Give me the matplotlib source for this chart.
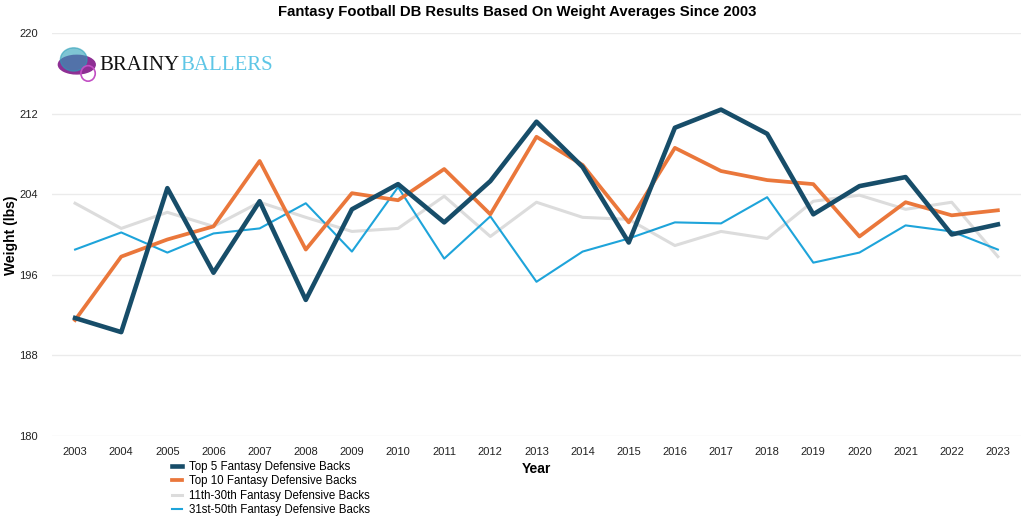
import matplotlib
matplotlib.use('Agg')
import matplotlib.pyplot as plt
from matplotlib.patches import Ellipse, Wedge

# Данные
years = list(range(2003, 2024))
top5 = [191.7, 190.3, 204.6, 196.2, 203.3, 193.5, 202.5, 205.0, 201.2, 205.3, 211.2,
        206.7, 199.2, 210.6, 212.4, 210.0, 202.0, 204.8, 205.7, 200.0, 201.0]
top10 = [191.5, 197.8, 199.5, 200.8, 207.3, 198.5, 204.1, 203.4, 206.5, 202.0, 209.7,
         206.9, 201.2, 208.6, 206.3, 205.4, 205.0, 199.8, 203.2, 201.9, 202.4]
r11_30 = [203.1, 200.6, 202.2, 200.8, 203.2, 201.7, 200.3, 200.6, 203.8, 199.8, 203.2,
          201.7, 201.5, 198.9, 200.3, 199.6, 203.3, 203.9, 202.5, 203.2, 197.8]
r31_50 = [198.5, 200.2, 198.2, 200.1, 200.6, 203.1, 198.3, 204.7, 197.6, 201.8, 195.3,
          198.3, 199.6, 201.2, 201.1, 203.7, 197.2, 198.2, 200.9, 200.3, 198.5]
yticks = [180, 188, 196, 204, 212, 220]

plt.rcParams['font.family'] = ['Liberation Sans', 'DejaVu Sans']

fig = plt.figure(figsize=(10.24, 5.17), dpi=100)
ax = fig.add_axes([0.0508, 0.157, 0.9462, 0.779])

ax.plot(years, r11_30, color='#dcdcdc', lw=2.2, label='11th-30th Fantasy Defensive Backs', zorder=2)
ax.plot(years, r31_50, color='#1ea4da', lw=1.5, label='31st-50th Fantasy Defensive Backs', zorder=3)
ax.plot(years, top10, color='#ea773b', lw=2.7, label='Top 10 Fantasy Defensive Backs', zorder=4)
ax.plot(years, top5, color='#174d69', lw=3.3, label='Top 5 Fantasy Defensive Backs', zorder=5)

ax.set_xlim(2002.5, 2023.5)
ax.set_ylim(180, 220)
ax.set_xticks(years)
ax.set_xticklabels([str(y) for y in years], fontsize=8, color='#222222')
ax.set_yticks(yticks)
ax.set_yticklabels([str(y) for y in yticks], fontsize=8, color='#222222')
ax.tick_params(length=0, pad=8)
ax.tick_params(axis='y', pad=10)
ax.grid(axis='y', color='#ebebeb', lw=1)
ax.set_axisbelow(True)
for s in ax.spines.values():
    s.set_visible(False)

fig.text(0.505, 0.976, 'Fantasy Football DB Results Based On Weight Averages Since 2003',
         ha='center', va='center', fontsize=10.7, fontweight='bold')
fig.text(0.524, 0.093, 'Year', ha='center', va='center', fontsize=10, fontweight='bold')
fig.text(0.011, 0.545, 'Weight (lbs)', ha='center', va='center', rotation=90,
         fontsize=10, fontweight='bold')

# Легенда
h, l = ax.get_legend_handles_labels()
order = [3, 2, 0, 1]
fig.legend([h[i] for i in order], [l[i] for i in order], loc='upper left',
           bbox_to_anchor=(0.163, 0.117), frameon=False, fontsize=8.3,
           handlelength=0.9, handletextpad=0.6, labelspacing=0.2, borderaxespad=0)

# Логотип
fig.patches.append(Wedge((0.075, 0.875), 0.018, 0, 360, transform=fig.transFigure,
                         color='#8e2f94', zorder=10))
fig.patches.append(Ellipse((0.072, 0.885), 0.026, 0.045, transform=fig.transFigure,
                           color='#2a9fb8', alpha=0.6, zorder=11))
fig.patches.append(Ellipse((0.086, 0.858), 0.014, 0.03, transform=fig.transFigure,
                           facecolor='none', edgecolor='#c24fc4', lw=1.2, zorder=12))
fig.text(0.097, 0.874, 'BRAINY', ha='left', va='center', fontsize=15,
         family='Liberation Serif', color='#111111')
fig.text(0.1765, 0.874, 'BALLERS', ha='left', va='center', fontsize=15,
         family='Liberation Serif', color='#5ec6e6')

fig.savefig('out.png', dpi=100)
